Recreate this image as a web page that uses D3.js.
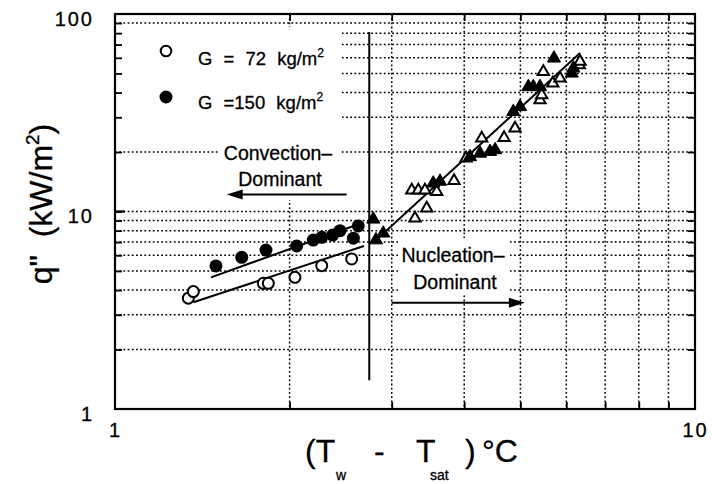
<!DOCTYPE html>
<html>
<head>
<meta charset="utf-8">
<script src="https://cdn.jsdelivr.net/npm/d3@7"></script>
<style>
  body { margin: 0; background: #fff; }
  svg { display: block; }
  text { font-family: "Liberation Sans", Arial, Helvetica, sans-serif; fill: #000; stroke: #000; stroke-width: 0.3; }
</style>
</head>
<body>
<svg id="chart" width="712" height="484"></svg>
<script>
// Wall superheat (Tw - Tsat, °C) and heat flux q" (kW/m²)
// Convection-dominant regime, G = 72 kg/m² (open circles)
const convLowDT = [1.338, 1.365, 1.802, 1.838, 2.043, 2.272, 2.559];
const convLowQ  = [3.64, 3.93, 4.33, 4.33, 4.64, 5.32, 5.75];
// Convection-dominant regime, G = 150 kg/m² (filled circles)
const convHighDT = [1.493, 1.654, 1.821, 2.057, 2.197, 2.272, 2.373, 2.443, 2.576, 2.627];
const convHighQ  = [5.30, 5.86, 6.38, 6.69, 7.17, 7.40, 7.60, 8.00, 7.33, 8.45];
// Nucleation-dominant regime, G = 72 kg/m² (open triangles)
const nucLowDT = [3.290, 3.447, 3.248, 3.334, 3.423, 3.587, 3.842, 4.029, 4.288, 4.686, 4.894, 5.404, 5.441, 5.685, 5.851, 5.476, 6.318, 6.335];
const nucLowQ  = [9.24, 10.4, 12.8, 12.8, 12.8, 12.6, 14.3, 18.6, 23.5, 23.6, 26.4, 36.7, 38.9, 44.6, 47.3, 51.0, 55.2, 57.4];
// Nucleation-dominant regime, G = 150 kg/m² (filled triangles)
const nucHighDT = [2.788, 2.901, 2.818, 3.538, 3.634, 4.093, 4.259, 4.432, 4.522, 4.861, 4.993, 5.160, 5.263, 5.404, 5.713, 6.131, 6.170];
const nucHighQ  = [9.13, 7.76, 7.17, 13.9, 14.2, 18.9, 19.7, 20.1, 20.5, 32.0, 33.9, 42.8, 42.8, 42.8, 59.7, 50.1, 53.1];

// Correlation lines (end points)
const fitLowDT  = [1.365, 2.687];
const fitLowQ   = [3.47, 6.69];
const fitHighDT = [1.464, 2.666];
const fitHighQ  = [4.64, 8.74];
const fitNucDT  = [2.785, 6.335];
const fitNucQ   = [6.93, 63.5];

// Onset of nucleation divider
const onsetDT = 2.744;
const onsetQ  = [1.40, 81];

// Axis ticks
const xTickLabels = [1, 10];
const yTickLabels = [1, 10, 100];
const xMinor = [2, 3, 4, 5, 6, 7, 8, 9];
const yMinor = [2, 3, 4, 5, 6, 7, 8, 9, 10, 20, 30, 40, 50, 60, 70, 80, 90];

const legendLabels = ["G = 72 kg/m", "G =150 kg/m"];

const svg = d3.select("#chart");
const L = 115, R = 695, T = 14, B = 409;

const x = d3.scaleLog().domain([1, 10]).range([L, R]);
const y = d3.scaleLog().domain([1, 100]).range([B, T]);

// dotted grid
const grid = svg.append("g").attr("stroke", "#000").attr("stroke-width", 1.5)
  .attr("stroke-dasharray", "1.8,2.4").attr("fill", "none");
grid.selectAll("line.v").data(xMinor).join("line")
  .attr("x1", d => x(d)).attr("x2", d => x(d)).attr("y1", T).attr("y2", B);
grid.selectAll("line.h").data(yMinor).join("line")
  .attr("y1", d => y(d)).attr("y2", d => y(d)).attr("x1", L).attr("x2", R);

// white panels behind the legend and the regime labels
const panels = svg.append("g").attr("fill", "#fff");
panels.append("rect").attr("x", L).attr("y", 27).attr("width", 342 - L).attr("height", 100);
panels.append("rect").attr("x", 220).attr("y", 127).attr("width", 121).attr("height", 73);
panels.append("rect").attr("x", 398).attr("y", 238).attr("width", 112).attr("height", 56);

// inward ticks on all four sides
const axisG = svg.append("g");
axisG.append("g").attr("transform", `translate(0,${B})`)
  .call(d3.axisBottom(x).tickValues(xMinor).tickSizeInner(-7).tickSizeOuter(0).tickFormat(""));
axisG.append("g").attr("transform", `translate(0,${T})`)
  .call(d3.axisTop(x).tickValues(xMinor).tickSizeInner(-7).tickSizeOuter(0).tickFormat(""));
axisG.append("g").attr("transform", `translate(${L},0)`)
  .call(d3.axisLeft(y).tickValues(yMinor).tickSizeInner(-7).tickSizeOuter(0).tickFormat(""));
axisG.append("g").attr("transform", `translate(${R},0)`)
  .call(d3.axisRight(y).tickValues(yMinor).tickSizeInner(-7).tickSizeOuter(0).tickFormat(""));
axisG.selectAll(".domain").remove();
axisG.selectAll(".tick line").attr("stroke", "#000").attr("stroke-width", 1.8);

// longer tick at the decade
svg.selectAll("line.major").data([10]).join("line")
  .attr("x1", L).attr("x2", L + 10).attr("y1", d => y(d)).attr("y2", d => y(d))
  .attr("stroke", "#000").attr("stroke-width", 2.2);

// tick labels
const xl = svg.append("g").attr("transform", `translate(0,${B})`)
  .call(d3.axisBottom(x).tickValues(xTickLabels).tickSize(0).tickPadding(0).tickFormat(d3.format("d")));
xl.select(".domain").remove();
xl.selectAll("text").attr("y", 28).attr("dy", 0).attr("font-size", 20)
  .attr("letter-spacing", 2).attr("font-family", null);

const yl = svg.append("g").attr("transform", `translate(${L},0)`)
  .call(d3.axisLeft(y).tickValues(yTickLabels).tickSize(0).tickPadding(0).tickFormat(d3.format("d")));
yl.select(".domain").remove();
yl.selectAll("text").attr("x", -21).attr("dy", "0.55em").attr("font-size", 20)
  .attr("letter-spacing", 2).attr("font-family", null);

// frame
svg.append("rect").attr("x", L).attr("y", T).attr("width", R - L).attr("height", B - T)
  .attr("fill", "none").attr("stroke", "#000").attr("stroke-width", 2.2);

// correlation lines
const line = d3.line().x(d => x(d[0])).y(d => y(d[1]));
[[fitLowDT, fitLowQ], [fitHighDT, fitHighQ], [fitNucDT, fitNucQ]].forEach(([dx, dq]) => {
  svg.append("path").datum(d3.zip(dx, dq)).attr("d", line)
    .attr("fill", "none").attr("stroke", "#000").attr("stroke-width", 2);
});

// divider
svg.append("line")
  .attr("x1", x(onsetDT)).attr("x2", x(onsetDT))
  .attr("y1", y(onsetQ[0])).attr("y2", y(onsetQ[1]))
  .attr("stroke", "#000").attr("stroke-width", 2);

// markers
const tri = d3.symbol().type(d3.symbolTriangle);
svg.append("g").selectAll("path").data(d3.zip(nucLowDT, nucLowQ)).join("path")
  .attr("d", tri.size(55)()).attr("transform", d => `translate(${x(d[0])},${y(d[1])})`)
  .attr("fill", "#fff").attr("stroke", "#000").attr("stroke-width", 2);
svg.append("g").selectAll("path").data(d3.zip(nucHighDT, nucHighQ)).join("path")
  .attr("d", tri.size(75)()).attr("transform", d => `translate(${x(d[0])},${y(d[1])})`)
  .attr("fill", "#000").attr("stroke", "#000").attr("stroke-width", 1);
svg.append("g").selectAll("circle").data(d3.zip(convLowDT, convLowQ)).join("circle")
  .attr("cx", d => x(d[0])).attr("cy", d => y(d[1])).attr("r", 5.5)
  .attr("fill", "#fff").attr("stroke", "#000").attr("stroke-width", 2);
svg.append("g").selectAll("circle").data(d3.zip(convHighDT, convHighQ)).join("circle")
  .attr("cx", d => x(d[0])).attr("cy", d => y(d[1])).attr("r", 6.5)
  .attr("fill", "#000");

// regime annotations with arrows
function arrow(x1, x2, yy) {
  const dir = Math.sign(x2 - x1);
  svg.append("line").attr("x1", x1).attr("x2", x2 - dir * 12).attr("y1", yy).attr("y2", yy)
    .attr("stroke", "#000").attr("stroke-width", 2);
  svg.append("path")
    .attr("d", `M${x2},${yy} L${x2 - dir * 16},${yy - 5} L${x2 - dir * 16},${yy + 5} Z`)
    .attr("fill", "#000");
}
arrow(x(2.508), x(1.558), y(12.2));
arrow(x(3.0), x(5.09), y(3.45));

const ann = svg.append("g").attr("font-size", 19.5).attr("text-anchor", "middle");
ann.append("text").attr("x", 278).attr("y", 160).text("Convection\u2013");
ann.append("text").attr("x", 280).attr("y", 186).text("Dominant");
ann.append("text").attr("x", 453).attr("y", 262).text("Nucleation\u2013");
ann.append("text").attr("x", 455).attr("y", 289).text("Dominant");

// legend
const lg = svg.append("g");
lg.append("circle").attr("cx", 166).attr("cy", 51).attr("r", 5.3)
  .attr("fill", "#fff").attr("stroke", "#000").attr("stroke-width", 2);
lg.append("circle").attr("cx", 166).attr("cy", 97).attr("r", 6.5).attr("fill", "#000");
[65, 109].forEach((by, i) => {
  const t = lg.append("text").attr("x", 198).attr("y", by).attr("font-size", 18.5)
    .attr("word-spacing", 6).attr("xml:space", "preserve");
  t.append("tspan").text(legendLabels[i]);
  t.append("tspan").attr("dy", -8).attr("font-size", 12).text("2");
});

// axis titles
const xt = svg.append("text").attr("y", 462).attr("font-size", 32);
xt.append("tspan").attr("x", 305).text("(T");
xt.append("tspan").attr("x", 336).attr("y", 480).attr("font-size", 14).text("w");
xt.append("tspan").attr("x", 374).attr("y", 462).text("-");
xt.append("tspan").attr("x", 416).text("T");
xt.append("tspan").attr("x", 430).attr("y", 480).attr("font-size", 14).text("sat");
xt.append("tspan").attr("x", 465).attr("y", 462).text(")");
xt.append("tspan").attr("x", 482).text("\u00B0C");

const yt = svg.append("text").attr("transform", "translate(52,204) rotate(-90)")
  .attr("text-anchor", "middle").attr("font-size", 32).attr("xml:space", "preserve");
yt.append("tspan").text("q\"  (kW/m");
yt.append("tspan").attr("dy", -13).attr("font-size", 19).text("2");
yt.append("tspan").attr("dy", 13).text(")");
</script>
</body>
</html>
